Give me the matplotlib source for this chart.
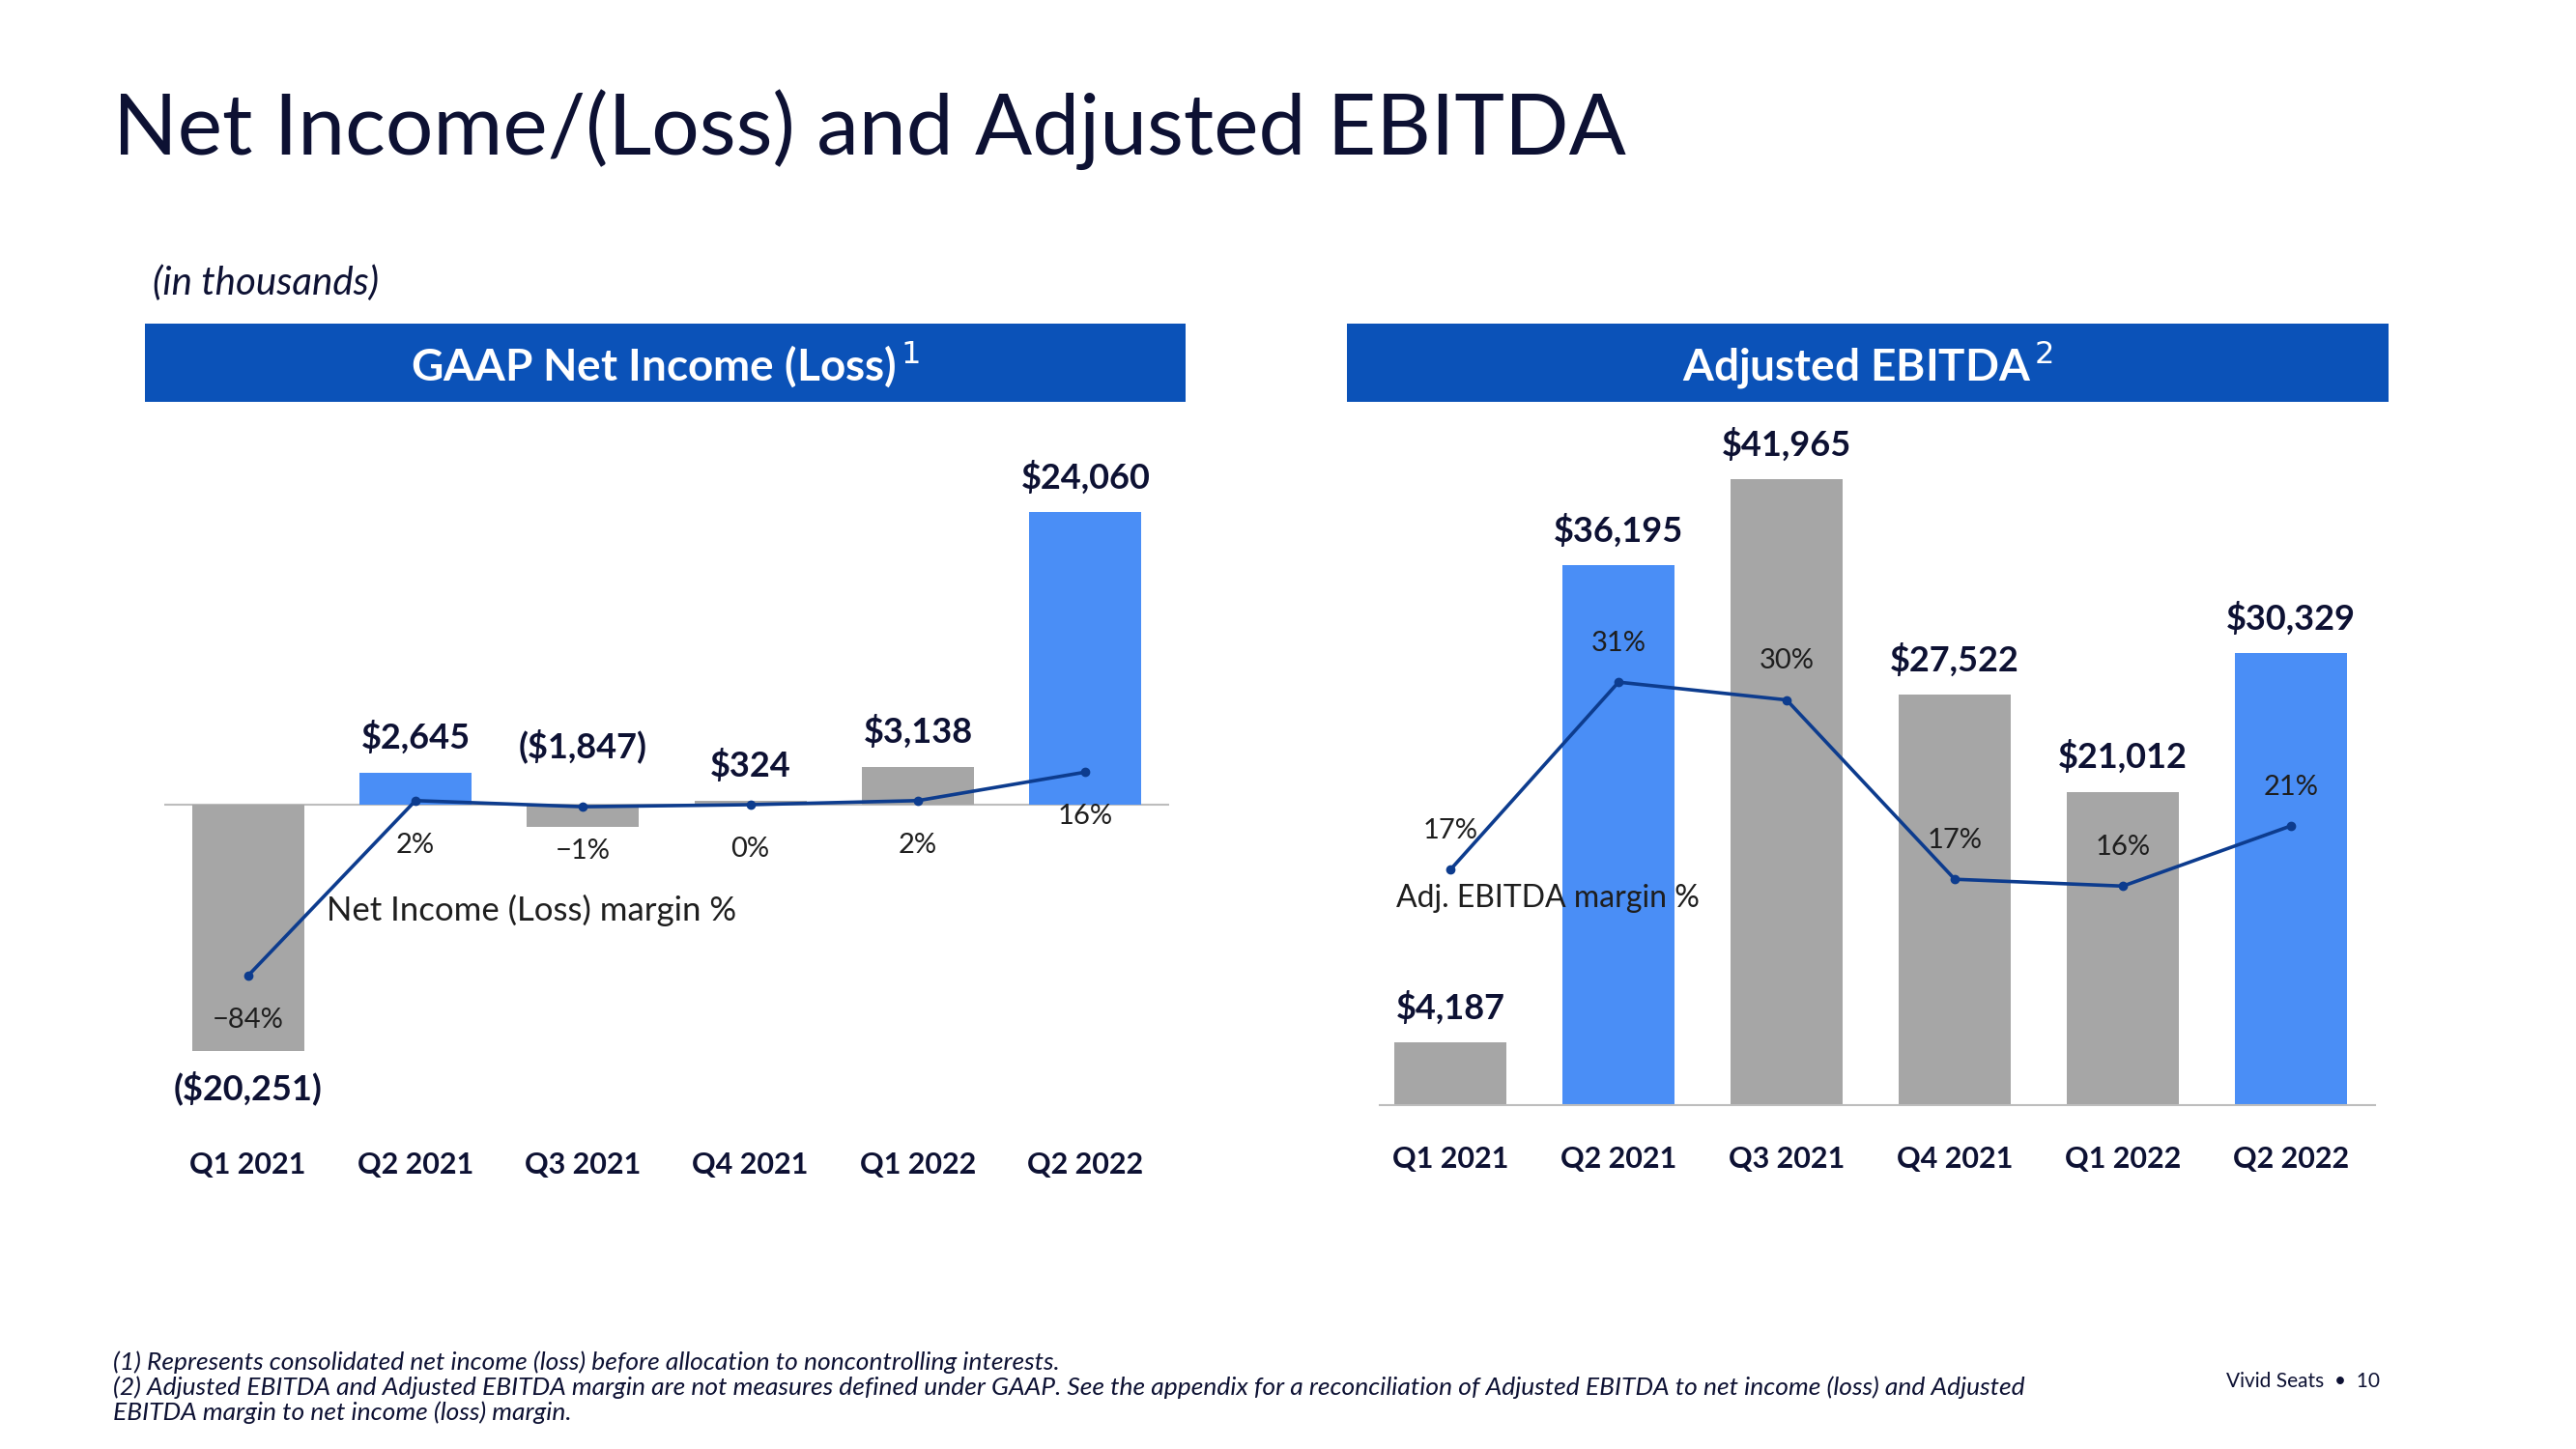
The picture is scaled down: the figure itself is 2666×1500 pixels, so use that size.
import matplotlib
matplotlib.use("Agg")
import matplotlib.pyplot as plt
from matplotlib.patches import Rectangle

# data (in thousands)
quarters = ["Q1 2021", "Q2 2021", "Q3 2021", "Q4 2021", "Q1 2022", "Q2 2022"]
net_income = [-20251, 2645, -1847, 324, 3138, 24060]
net_income_labels = ["($20,251)", "$2,645", "($1,847)", "$324", "$3,138", "$24,060"]
net_margin = [-84, 2, -1, 0, 2, 16]
net_margin_labels = ["\u221284%", "2%", "\u22121%", "0%", "2%", "16%"]

adj_ebitda = [4187, 36195, 41965, 27522, 21012, 30329]
adj_ebitda_labels = ["$4,187", "$36,195", "$41,965", "$27,522", "$21,012", "$30,329"]
ebitda_margin = [17.2, 30.9, 29.6, 16.5, 16.0, 20.4]
ebitda_margin_labels = ["17%", "31%", "30%", "17%", "16%", "21%"]

GRAY = "#A6A6A6"
BLUE = "#4A8EF6"
HEAD = "#0B52B8"
LINE = "#0D3C8E"
NAVY = "#0D1133"
TXT = "#1E1E1E"
bar_colors = [GRAY, BLUE, GRAY, GRAY, GRAY, BLUE]

plt.rcParams['font.family'] = ['Lato', 'DejaVu Sans']

W, H = 2666, 1500
fig = plt.figure(figsize=(W / 100, H / 100), dpi=100)

def fx(px):
    return px / W

def fy(py):
    return 1 - py / H

def box(x0, y0, x1, y1):
    # axes rect from pixel box (top-left origin)
    return [fx(x0), fy(y1), fx(x1) - fx(x0), (y1 - y0) / H]

# title and headers
fig.text(fx(117), fy(160), "Net Income/(Loss) and Adjusted EBITDA", fontsize=63,
         color=NAVY, ha="left", va="baseline")
fig.text(fx(158), fy(293), "(in thousands)", fontsize=29, style="italic",
         color=NAVY, ha="left", va="center")

for (x0, x1, label) in [(150, 1227, "GAAP Net Income (Loss)$^{\\,1}$"),
                        (1394, 2472, "Adjusted EBITDA$^{\\,2}$")]:
    fig.patches.append(Rectangle((fx(x0), fy(416)), fx(x1) - fx(x0), (416 - 335) / H,
                                 transform=fig.transFigure, facecolor=HEAD,
                                 edgecolor="none"))
    fig.text((fx(x0) + fx(x1)) / 2, fy(377), label, fontsize=33, fontweight="bold",
             color="white", ha="center", va="center")

x = list(range(len(quarters)))

# ---- left: GAAP net income ----
ax1 = fig.add_axes(box(170, 440, 1210, 1150))
zero1 = 833
u1 = 79.5      # thousands per pixel
p1 = 2.108     # pixels per margin %
ax1.bar(x, net_income, width=0.67, color=bar_colors, zorder=2)
ax1.axhline(0, color="#BDBDBD", lw=1.5, zorder=1)
ax1.set_xlim(-0.5, 5.5)
ax1.set_ylim(-(1150 - zero1) * u1, (zero1 - 440) * u1)
for i, v in enumerate(net_income):
    if v >= 0:
        ax1.annotate(net_income_labels[i], (i, v), xytext=(0, 26), textcoords="offset points",
                     ha="center", va="center", fontsize=26, fontweight="bold", color=NAVY)
    elif i == 0:
        ax1.annotate(net_income_labels[i], (i, v), xytext=(0, -28), textcoords="offset points",
                     ha="center", va="center", fontsize=26, fontweight="bold", color=NAVY)
    else:
        ax1.annotate(net_income_labels[i], (i, 0), xytext=(0, 44), textcoords="offset points",
                     ha="center", va="center", fontsize=26, fontweight="bold", color=NAVY)

ax1b = ax1.twinx()
ax1b.set_ylim(-(1150 - zero1) / p1, (zero1 - 440) / p1)
ax1b.plot(x, net_margin, color=LINE, lw=2.6, marker="o", ms=6, zorder=3)
for i, m in enumerate(net_margin):
    ax1b.annotate(net_margin_labels[i], (i, m), xytext=(0, -33), textcoords="offset points",
                  ha="center", va="center", fontsize=21, color=TXT)
ax1b.text(0.47, -52, "Net Income (Loss) margin %", fontsize=25, color=TXT,
          ha="left", va="center")

for a in (ax1, ax1b):
    for s in a.spines.values():
        s.set_visible(False)
    a.set_yticks([])
    a.patch.set_visible(False)
ax1.set_xticks(x)
ax1.set_xticklabels(quarters, fontsize=22, fontweight="bold", color=NAVY)
ax1.tick_params(axis="x", length=0, pad=30)

# ---- right: Adjusted EBITDA ----
ax2 = fig.add_axes(box(1428, 440, 2458, 1144))
u2 = 64.77
p2 = 14.17
ax2.bar(x, adj_ebitda, width=0.67, color=bar_colors, zorder=2)
ax2.set_xlim(-0.42, 5.5)
ax2.set_ylim(0, (1144 - 440) * u2)
for i, v in enumerate(adj_ebitda):
    ax2.annotate(adj_ebitda_labels[i], (i, v), xytext=(0, 26), textcoords="offset points",
                 ha="center", va="center", fontsize=26, fontweight="bold", color=NAVY)

ax2b = ax2.twinx()
ax2b.set_ylim(0, (1144 - 440) / p2)
ax2b.plot(x, ebitda_margin, color=LINE, lw=2.6, marker="o", ms=6, zorder=3)
for i, m in enumerate(ebitda_margin):
    ax2b.annotate(ebitda_margin_labels[i], (i, m), xytext=(0, 29), textcoords="offset points",
                  ha="center", va="center", fontsize=21, color=TXT)
ax2b.text(-0.32, 15.1, "Adj. EBITDA margin %", fontsize=23, color=TXT,
          ha="left", va="center")

for a in (ax2, ax2b):
    for s in a.spines.values():
        s.set_visible(False)
    a.set_yticks([])
    a.patch.set_visible(False)
ax2.spines["bottom"].set_visible(True)
ax2.spines["bottom"].set_color("#BDBDBD")
ax2.spines["bottom"].set_linewidth(1.5)
ax2.set_xticks(x)
ax2.set_xticklabels(quarters, fontsize=22, fontweight="bold", color=NAVY)
ax2.tick_params(axis="x", length=0, pad=30)

# footnotes
notes = ("(1) Represents consolidated net income (loss) before allocation to noncontrolling interests.\n"
         "(2) Adjusted EBITDA and Adjusted EBITDA margin are not measures defined under GAAP. "
         "See the appendix for a reconciliation of Adjusted EBITDA to net income (loss) and Adjusted\n"
         "EBITDA margin to net income (loss) margin.")
fig.text(fx(117), fy(1436), notes, fontsize=19, style="italic", color=NAVY,
         ha="left", va="center", linespacing=1.12)
fig.text(fx(2304), fy(1430), "Vivid Seats  \u2022  10", fontsize=15, color=NAVY,
         ha="left", va="center")

fig.savefig("out.png", dpi=100, facecolor="white")
